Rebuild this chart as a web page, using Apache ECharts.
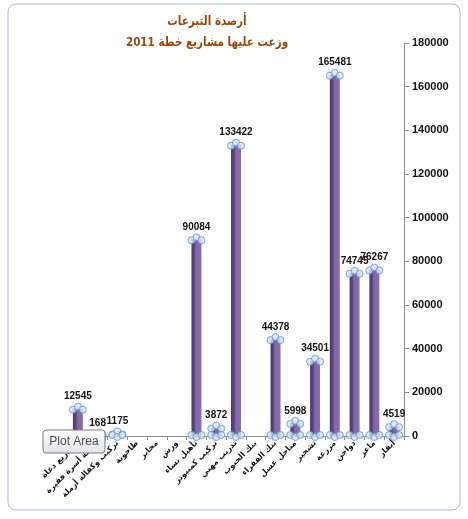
<!DOCTYPE html>
<html>
<head>
<meta charset="utf-8">
<script src="https://cdn.jsdelivr.net/npm/echarts@6/dist/echarts.min.js"></script>
<style>
  html, body { margin: 0; padding: 0; background: #fff; }
  #chart { width: 468px; height: 519px; }
</style>
</head>
<body>
<div id="chart"></div>
<script>
  // categories, drawn left to right as in the picture
  const categories = [
    'مشاريع دعاة', 'كفالة أسرة فقيرة', 'تركيب وكفالة أرملة', 'طاحونة', 'مخابز',
    'ورش', 'تأهيل نساء', 'تركيب كمبيوتر', 'تدريب مهني', 'بنك الحبوب',
    'بنك الفقراء', 'مناحل عسل', 'تشجير', 'مزرعة', 'دواجن', 'ماعز', 'أبقار'
  ];
  const amounts = [
    12545, 168, 1175, null, null, null, 90084, 3872, 133422, null,
    44378, 5998, 34501, 165481, 74745, 76267, 4519
  ];
  const yTicks = [0, 20000, 40000, 60000, 80000, 100000, 120000, 140000, 160000, 180000];
  const titleLines = ['أرصدة التبرعات', 'وزعت عليها مشاريع خطة 2011'];

  const chart = echarts.init(document.getElementById('chart'));

  // excel selection handles round the top and bottom of each cylinder
  const handleStyle = { color: '#d3e4f5', borderColor: '#5f8fc8', borderWidth: 1 };
  function handles(data, offsets) {
    return offsets.map((off) => ({
      type: 'scatter',
      data: data,
      symbol: 'circle',
      symbolSize: 7,
      symbolOffset: off,
      itemStyle: handleStyle,
      z: 5,
      silent: true
    }));
  }
  const bottoms = amounts.map((v) => (v == null ? null : 0));

  const titleStyle = {
    fill: '#984807',
    fontSize: 13,
    fontWeight: 'bold',
    fontFamily: 'DejaVu Sans',
    textAlign: 'center',
    textVerticalAlign: 'middle'
  };

  chart.setOption({
    animation: false,
    grid: { left: 68, right: 64, top: 43, bottom: 83 },
    xAxis: {
      type: 'category',
      data: categories,
      axisLine: { lineStyle: { color: '#8c8c8c' } },
      axisTick: { show: true, alignWithLabel: false, length: 4, lineStyle: { color: '#8c8c8c' } },
      axisLabel: {
        interval: 0,
        rotate: 45,
        fontSize: 8,
        fontWeight: 'bold',
        fontFamily: 'DejaVu Sans',
        color: '#111',
        margin: 6
      }
    },
    yAxis: {
      type: 'value',
      position: 'right',
      min: 0,
      max: yTicks[yTicks.length - 1],
      interval: yTicks[1] - yTicks[0],
      axisLine: { show: true, lineStyle: { color: '#8c8c8c' } },
      axisTick: { show: true, length: 5, lineStyle: { color: '#8c8c8c' } },
      splitLine: { show: false },
      axisLabel: {
        fontSize: 11,
        fontWeight: 'bold',
        fontFamily: 'Liberation Sans',
        color: '#111',
        margin: 8,
        formatter: (v) => String(v)
      }
    },
    series: [
      {
        type: 'bar',
        data: amounts,
        barWidth: 10,
        itemStyle: {
          color: new echarts.graphic.LinearGradient(0, 0, 1, 0, [
            { offset: 0, color: '#4b3a6b' },
            { offset: 0.35, color: '#5e4985' },
            { offset: 0.4, color: '#8064a2' },
            { offset: 1, color: '#8a6fb0' }
          ])
        },
        label: {
          show: true,
          position: 'top',
          distance: 7,
          fontSize: 10,
          fontWeight: 'bold',
          fontFamily: 'Liberation Sans',
          color: '#111'
        },
        z: 3
      },
      ...handles(amounts, [[-5, 1], [0, -2], [5, 1]]),
      ...handles(bottoms, [[-5, -1], [0, 1], [5, -1]])
    ],
    graphic: [
      {
        type: 'rect',
        shape: { x: 8, y: 4, width: 452, height: 506, r: 8 },
        style: { fill: 'none', stroke: '#a8bccf', lineWidth: 1 },
        silent: true
      },
      {
        type: 'text',
        x: 207,
        y: 22,
        scaleX: 0.8,
        style: Object.assign({ text: titleLines[0] }, titleStyle)
      },
      {
        type: 'text',
        x: 207,
        y: 43,
        scaleX: 0.8,
        style: Object.assign({ text: titleLines[1] }, titleStyle)
      },
      {
        // excel hover tip shown in the screenshot
        type: 'rect',
        x: 43,
        y: 430,
        z: 200,
        zlevel: 2,
        shape: { x: 0, y: 0, width: 62, height: 23, r: 3 },
        style: {
          fill: new echarts.graphic.LinearGradient(0, 0, 0, 1, [
            { offset: 0, color: '#ffffff' },
            { offset: 1, color: '#e2e4ea' }
          ]),
          stroke: '#7a7a7a',
          lineWidth: 1
        }
      },
      {
        type: 'text',
        x: 74,
        y: 442,
        z: 201,
        zlevel: 2,
        style: {
          text: 'Plot Area',
          fontSize: 12,
          fontFamily: 'Liberation Sans',
          fill: '#4c4c4c',
          textAlign: 'center',
          textVerticalAlign: 'middle'
        }
      }
    ]
  });
</script>
</body>
</html>
